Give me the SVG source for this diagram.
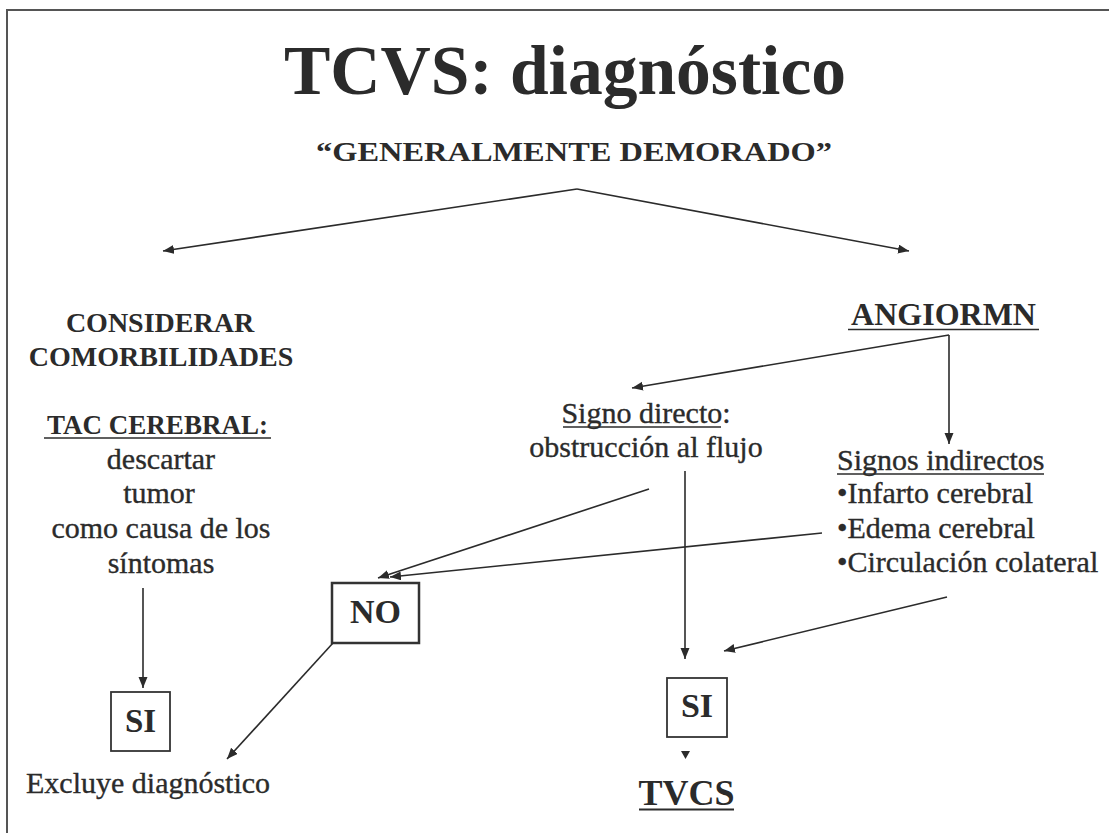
<svg xmlns="http://www.w3.org/2000/svg" width="1109" height="833" viewBox="0 0 1109 833">
<style>
text{font-family:"Liberation Serif","Times New Roman",serif;fill:#2b2b2b}
.b{font-weight:bold}
.r{font-weight:normal;font-size:30px;stroke:#2b2b2b;stroke-width:0.35}
.c{text-anchor:middle}
.ln{stroke:#2b2b2b;stroke-width:1.6;fill:none}
.ul{stroke:#2b2b2b;stroke-width:1.5}
.box{fill:none;stroke:#333;stroke-width:1.8}
</style>
<defs>
<marker id="ah" markerUnits="userSpaceOnUse" markerWidth="12" markerHeight="10" refX="11" refY="4.5" orient="auto">
<path d="M0,0 L11,4.5 L0,9 Z" fill="#2b2b2b"/>
</marker>
</defs>
<rect width="1109" height="833" fill="#fff"/>
<path d="M7,833 V10 H1109" fill="none" stroke="#555" stroke-width="2"/>

<g id="title">
<text class="b c" x="565" y="94" font-size="70" textLength="562" lengthAdjust="spacingAndGlyphs">TCVS: diagnóstico</text>
</g>
<g id="subtitle">
<text class="b" x="316" y="161" font-size="27" textLength="516" lengthAdjust="spacingAndGlyphs">“GENERALMENTE DEMORADO”</text>
</g>

<g id="comorbilidades">
<text class="b c" x="160" y="332" font-size="28">CONSIDERAR</text>
<text class="b c" x="161" y="366" font-size="28">COMORBILIDADES</text>
</g>

<g id="tac">
<text class="b c" x="157.5" y="434" font-size="27">TAC CEREBRAL:</text>
<line class="ul" x1="44" y1="438" x2="271" y2="438"/>
<text class="r c" x="161" y="469">descartar</text>
<text class="r c" x="159" y="503">tumor</text>
<text class="r c" x="161" y="538">como causa de los</text>
<text class="r c" x="161" y="573">síntomas</text>
</g>

<g id="si-left">
<rect class="box" x="111" y="692" width="59" height="59"/>
<text class="b c" x="140.5" y="732" font-size="33">SI</text>
</g>

<g id="excluye">
<text class="r" x="26" y="793">Excluye diagnóstico</text>
</g>

<g id="angiormn">
<text class="b c" x="943.5" y="325" font-size="32">ANGIORMN</text>
<line class="ul" x1="848" y1="329.5" x2="1039" y2="329.5"/>
</g>

<g id="signo-directo">
<text class="r c" x="646" y="423">Signo directo:</text>
<line class="ul" x1="563" y1="427" x2="721" y2="427"/>
<text class="r c" x="646" y="457">obstrucción al flujo</text>
</g>

<g id="signos-indirectos">
<text class="r" x="837" y="470">Signos indirectos</text>
<line class="ul" x1="837" y1="474" x2="1044" y2="474"/>
<text class="r" x="837" y="503">•Infarto cerebral</text>
<text class="r" x="837" y="538">•Edema cerebral</text>
<text class="r" x="837" y="572">•Circulación colateral</text>
</g>

<g id="no">
<rect x="332" y="583" width="87" height="60" fill="none" stroke="#333" stroke-width="2.5"/>
<text class="b c" x="375.5" y="623" font-size="34">NO</text>
</g>

<g id="si-right">
<rect class="box" x="667" y="678" width="60" height="59"/>
<text class="b c" x="697" y="717" font-size="34">SI</text>
</g>

<g id="tvcs">
<text class="b c" x="686.5" y="805" font-size="36">TVCS</text>
<line x1="639" y1="809.5" x2="734" y2="809.5" stroke="#2b2b2b" stroke-width="2"/>
</g>

<g id="connectors">
<line class="ln" x1="577" y1="189" x2="163" y2="251" marker-end="url(#ah)"/>
<line class="ln" x1="577" y1="189" x2="909" y2="251" marker-end="url(#ah)"/>
<line class="ln" x1="143" y1="588" x2="143" y2="688" marker-end="url(#ah)"/>
<line class="ln" x1="949" y1="335" x2="632" y2="388" marker-end="url(#ah)"/>
<line class="ln" x1="949" y1="335" x2="949" y2="444" marker-end="url(#ah)"/>
<line class="ln" x1="649" y1="489" x2="378" y2="578" marker-end="url(#ah)"/>
<line class="ln" x1="822" y1="533" x2="390" y2="577" marker-end="url(#ah)"/>
<line class="ln" x1="685" y1="471" x2="685" y2="659" marker-end="url(#ah)"/>
<line class="ln" x1="947" y1="597" x2="724" y2="651" marker-end="url(#ah)"/>
<line class="ln" x1="333" y1="643" x2="227" y2="759" marker-end="url(#ah)"/>
<path d="M681,751 L690,751 L685.5,759 Z" fill="#2b2b2b"/>
</g>
</svg>
